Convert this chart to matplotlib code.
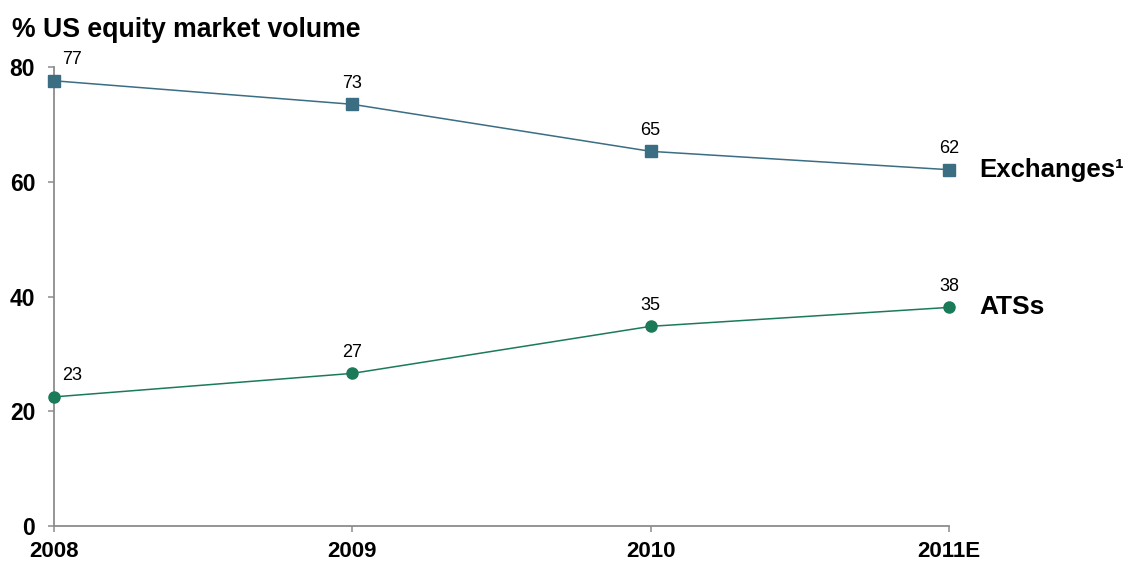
import matplotlib.pyplot as plt

plt.rcParams['font.family'] = ['Liberation Sans', 'DejaVu Sans']

# data
years = ['2008', '2009', '2010', '2011E']
exchanges = [77.6, 73.5, 65.3, 62.1]
ats = [22.5, 26.6, 34.8, 38.1]
exchanges_labels = ['77', '73', '65', '62']
ats_labels = ['23', '27', '35', '38']

col_exch = '#3b6d83'
col_ats = '#1b7a58'
col_axis = '#8c8c8c'

fig = plt.figure(figsize=(11.29, 5.65), dpi=100)
ax = fig.add_axes([54 / 1129, 39 / 565, (949 - 54) / 1129, (526 - 67) / 565])

x = list(range(len(years)))
ax.plot(x, exchanges, color=col_exch, lw=1.1, marker='s', ms=8, clip_on=False, zorder=3)
ax.plot(x, ats, color=col_ats, lw=1.1, marker='o', ms=8, clip_on=False, zorder=3)

# etiquetas dos pontos
for i in x:
    dx = 13 if i == 0 else 0
    ax.annotate(exchanges_labels[i], (i, exchanges[i]), xytext=(dx, 9),
                textcoords='offset points', ha='center', va='bottom', fontsize=13)
    ax.annotate(ats_labels[i], (i, ats[i]), xytext=(dx, 9),
                textcoords='offset points', ha='center', va='bottom', fontsize=13)

ax.annotate('Exchanges¹', (x[-1], exchanges[-1]), xytext=(22, 0), textcoords='offset points',
            ha='left', va='center', fontsize=18.5, fontweight='bold')
ax.annotate('ATSs', (x[-1], ats[-1]), xytext=(22, 0), textcoords='offset points',
            ha='left', va='center', fontsize=19, fontweight='bold')

ax.set_xlim(0, 3)
ax.set_ylim(0, 80)
ax.set_xticks(x)
ax.set_xticklabels(years)
ax.set_yticks([0, 20, 40, 60, 80])

for s in ['top', 'right']:
    ax.spines[s].set_visible(False)
for s in ['left', 'bottom']:
    ax.spines[s].set_color(col_axis)
    ax.spines[s].set_linewidth(1.3)

ax.tick_params(axis='y', length=4.5, width=1.1, color=col_axis, pad=9, labelsize=16.5)
ax.tick_params(axis='x', length=4.5, width=1.1, color=col_axis, pad=6, labelsize=16)
for lab in ax.get_xticklabels() + ax.get_yticklabels():
    lab.set_fontweight('bold')

fig.text(12 / 1129, 1 - 30 / 565, '% US equity market volume', fontsize=19.2,
         fontweight='bold', ha='left', va='center')

fig.savefig('out.png', dpi=100)
